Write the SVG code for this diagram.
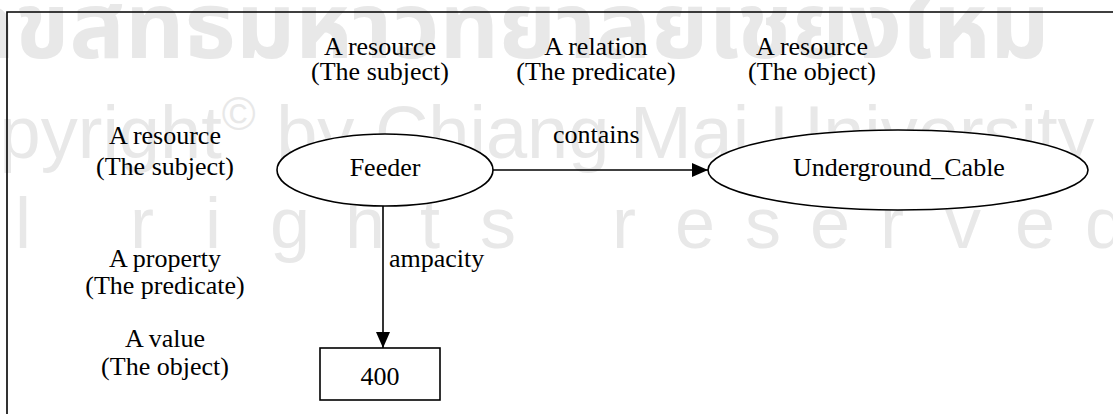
<svg xmlns="http://www.w3.org/2000/svg" width="1113" height="414" viewBox="0 0 1113 414">
  <style>
    .lbl { font-family: "Liberation Serif", "Times New Roman", serif; font-size: 26px; fill: #000; text-anchor: middle; }
    .edge-lbl { font-family: "Liberation Serif", "Times New Roman", serif; font-size: 26px; fill: #000; }
    .shape { fill: #fff; stroke: #000; stroke-width: 1.6; }
    .conn { fill: none; stroke: #000; stroke-width: 1.6; }
    .wm { fill: #e8e8e8; }
    .wm-sans { font-family: "Liberation Sans", Arial, sans-serif; }
  </style>
  <defs>
    <marker id="arrow" markerWidth="16" markerHeight="14" refX="16" refY="7" orient="auto" markerUnits="userSpaceOnUse">
      <path d="M0,0 L16,7 L0,14 Z" fill="#000"/>
    </marker>
  </defs>

  <rect width="1113" height="414" fill="#fff"/>

  <!-- background watermark -->
  <g id="watermark" class="wm">
    <text x="-40" y="58" font-family="'Noto Sans Thai', 'DejaVu Sans', 'Noto Sans', sans-serif" font-size="92" font-weight="bold">ลิขสิทธิ์มหาวิทยาลัยเชียงใหม่</text>
    <text class="wm-sans" x="-95" y="158" font-size="74">Copyright<tspan font-size="46" dy="-28">©</tspan><tspan dy="28"> by Chiang Mai University</tspan></text>
    <text class="wm-sans" y="248" font-size="72" x="-150 -65 15 80 130 205 270 345 420 480 550 612 675 745 810 880 945 1015 1085">All rights reserved</text>
  </g>

  <!-- frame -->
  <path d="M7,414 V12 H1113" fill="none" stroke="#000" stroke-width="1.6"/>

  <!-- column and row captions -->
  <g id="captions">
    <text class="lbl" x="380" y="55">A resource</text>
    <text class="lbl" x="380" y="80">(The subject)</text>
    <text class="lbl" x="596" y="55">A relation</text>
    <text class="lbl" x="596" y="80">(The predicate)</text>
    <text class="lbl" x="812" y="55">A resource</text>
    <text class="lbl" x="812" y="80">(The object)</text>

    <text class="lbl" x="165" y="144">A resource</text>
    <text class="lbl" x="165" y="175">(The subject)</text>
    <text class="lbl" x="165" y="267">A property</text>
    <text class="lbl" x="165" y="294">(The predicate)</text>
    <text class="lbl" x="165" y="347">A value</text>
    <text class="lbl" x="165" y="375">(The object)</text>
  </g>

  <!-- connectors -->
  <g id="connectors">
    <line class="conn" x1="493" y1="170" x2="708" y2="170" marker-end="url(#arrow)"/>
    <text class="edge-lbl" x="553" y="143">contains</text>
    <line class="conn" x1="383" y1="206" x2="383" y2="348" marker-end="url(#arrow)"/>
    <text class="edge-lbl" x="389" y="267">ampacity</text>
  </g>

  <g id="node-feeder">
    <ellipse class="shape" cx="385" cy="170" rx="108" ry="36"/>
    <text class="lbl" x="385" y="176">Feeder</text>
  </g>

  <g id="node-underground-cable">
    <ellipse class="shape" cx="898" cy="170" rx="190" ry="40"/>
    <text class="lbl" x="899" y="176">Underground_Cable</text>
  </g>

  <g id="node-400">
    <rect class="shape" x="320" y="348" width="120" height="52"/>
    <text class="lbl" x="380" y="385">400</text>
  </g>
</svg>
